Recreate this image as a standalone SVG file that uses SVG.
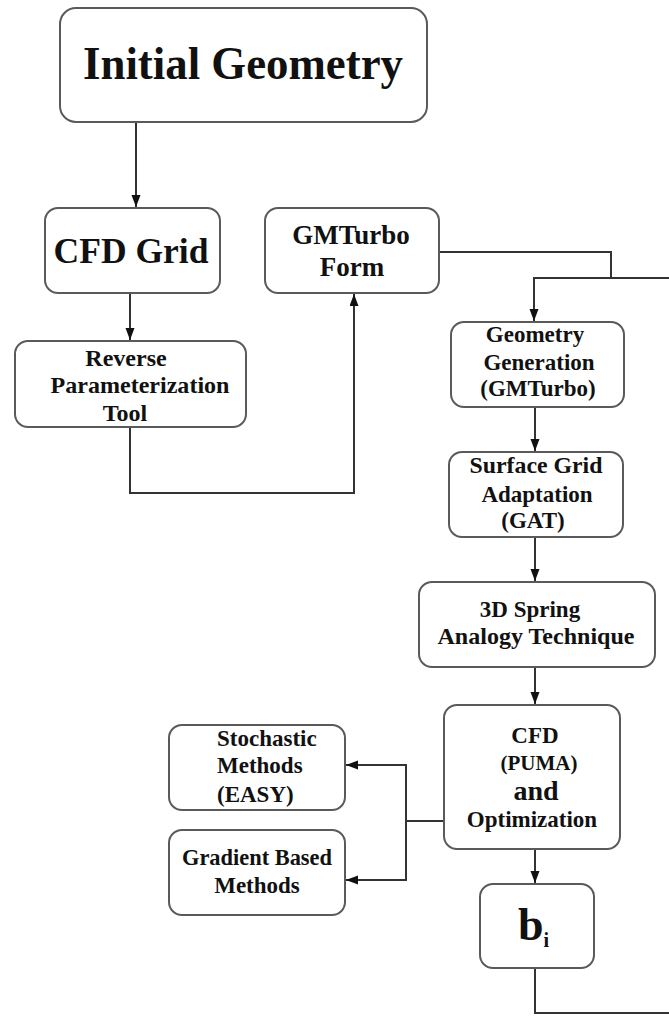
<svg xmlns="http://www.w3.org/2000/svg" width="669" height="1016" viewBox="0 0 669 1016">
<style>
.box{fill:#fff;stroke:#5a5a5a;stroke-width:2}
.t{font-family:"Liberation Serif","Times New Roman",serif;font-weight:bold;fill:#111;text-anchor:middle}
.tl{text-anchor:start}
.c{fill:none;stroke:#333;stroke-width:2}
</style>
<defs>
<marker id="ah" markerUnits="userSpaceOnUse" markerWidth="12" markerHeight="10" refX="12" refY="4.5" orient="auto">
<path d="M0,0 L12,4.5 L0,9 Z" fill="#111"/>
</marker>
</defs>
<rect width="669" height="1016" fill="#fff"/>
<g id="connectors">
<path class="c" d="M136,122 V207" marker-end="url(#ah)"/>
<path class="c" d="M130,293 V340" marker-end="url(#ah)"/>
<path class="c" d="M130,427 V493 H354 V294" marker-end="url(#ah)"/>
<path class="c" d="M439,252 H611 V278"/>
<path class="c" d="M535,968 V1013 H671 V278 H534 V321" marker-end="url(#ah)"/>
<path class="c" d="M535,407 V451" marker-end="url(#ah)"/>
<path class="c" d="M535,537 V581" marker-end="url(#ah)"/>
<path class="c" d="M535,667 V704" marker-end="url(#ah)"/>
<path class="c" d="M535,850 V883" marker-end="url(#ah)"/>
<path class="c" d="M444,821 H406 V765 H346" marker-end="url(#ah)"/>
<path class="c" d="M406,821 V880 H346" marker-end="url(#ah)"/>
</g>
<g id="initial-geometry">
<rect class="box" x="60" y="8" width="367" height="114" rx="16"/>
<text class="t" x="243" y="79" font-size="47" textLength="320" lengthAdjust="spacingAndGlyphs">Initial Geometry</text>
</g>
<g id="cfd-grid">
<rect class="box" x="45" y="208" width="175" height="85" rx="13"/>
<text class="t" x="131" y="263" font-size="35" textLength="155" lengthAdjust="spacingAndGlyphs">CFD Grid</text>
</g>
<g id="gmturbo-form">
<rect class="box" x="265" y="208" width="174" height="85" rx="13"/>
<text class="t" x="351" y="244" font-size="27">GMTurbo</text>
<text class="t" x="352" y="276" font-size="27">Form</text>
</g>
<g id="reverse-param">
<rect class="box" x="15" y="341" width="231" height="86" rx="13"/>
<text class="t" x="126" y="366" font-size="24">Reverse</text>
<text class="t" x="140" y="393" font-size="24" textLength="179" lengthAdjust="spacingAndGlyphs">Parameterization</text>
<text class="t" x="125" y="421" font-size="24">Tool</text>
</g>
<g id="geometry-generation">
<rect class="box" x="451" y="322" width="173" height="85" rx="13"/>
<text class="t" x="535" y="342" font-size="23">Geometry</text>
<text class="t" x="539" y="370" font-size="23">Generation</text>
<text class="t" x="538" y="396" font-size="23">(GMTurbo)</text>
</g>
<g id="surface-grid">
<rect class="box" x="449" y="452" width="174" height="85" rx="13"/>
<text class="t" x="536" y="473" font-size="23" textLength="133" lengthAdjust="spacingAndGlyphs">Surface Grid</text>
<text class="t" x="537" y="502" font-size="23">Adaptation</text>
<text class="t" x="533" y="528" font-size="23">(GAT)</text>
</g>
<g id="spring-analogy">
<rect class="box" x="419" y="582" width="236" height="85" rx="13"/>
<text class="t" x="530" y="617" font-size="23">3D Spring</text>
<text class="t" x="536" y="644" font-size="23" textLength="197" lengthAdjust="spacingAndGlyphs">Analogy Technique</text>
</g>
<g id="cfd-optimization">
<rect class="box" x="444" y="705" width="176" height="144" rx="13"/>
<text class="t" x="535" y="743" font-size="23">CFD</text>
<text class="t" x="539" y="770" font-size="21">(PUMA)</text>
<text class="t" x="536" y="800" font-size="28">and</text>
<text class="t" x="532" y="827" font-size="23">Optimization</text>
</g>
<g id="stochastic">
<rect class="box" x="169" y="725" width="176" height="85" rx="13"/>
<text class="t tl" x="217" y="746" font-size="23">Stochastic</text>
<text class="t tl" x="217" y="773" font-size="23">Methods</text>
<text class="t tl" x="217" y="802" font-size="23">(EASY)</text>
</g>
<g id="gradient">
<rect class="box" x="169" y="830" width="176" height="85" rx="13"/>
<text class="t" x="257" y="865" font-size="23" textLength="150" lengthAdjust="spacingAndGlyphs">Gradient Based</text>
<text class="t" x="257" y="893" font-size="23">Methods</text>
</g>
<g id="b-i">
<rect class="box" x="480" y="884" width="114" height="84" rx="13"/>
<text class="t tl" x="518" y="940" font-size="46">b<tspan font-size="20" dy="7">i</tspan></text>
</g>
</svg>
